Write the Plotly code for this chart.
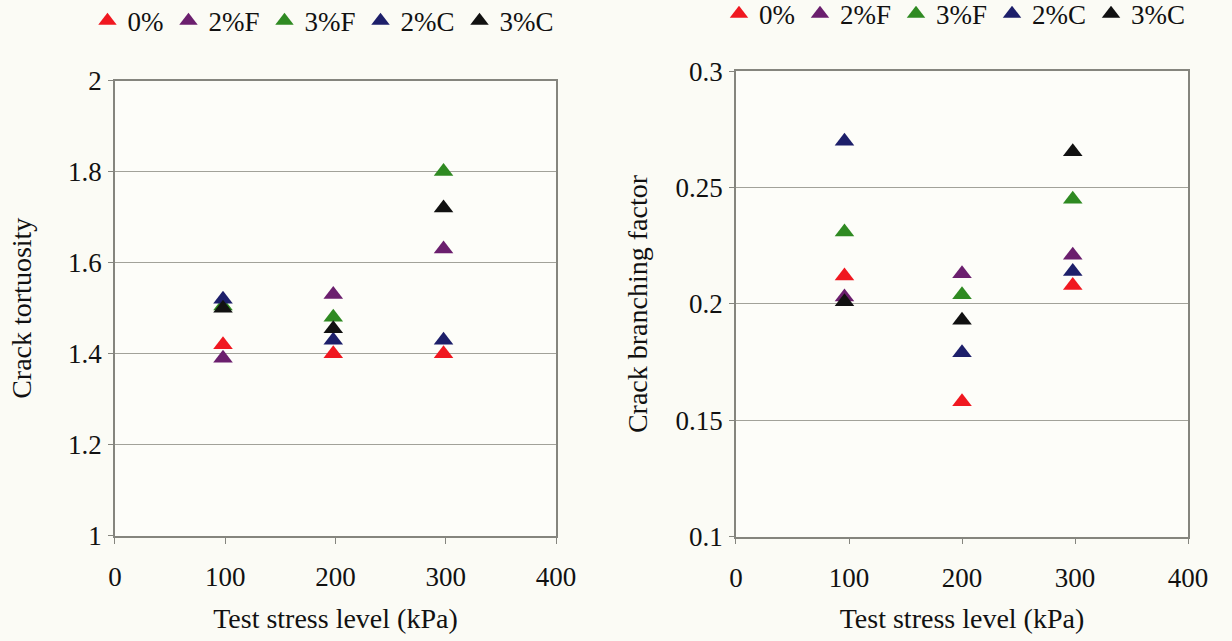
import plotly.graph_objects as go

# ---- data ----
series = ["0%", "2%F", "3%F", "2%C", "3%C"]
colors = ["#f01820", "#6b1f6e", "#2f8a22", "#1d1f6a", "#111111"]

stress_left = [98, 198, 298]
tortuosity = {
    "0%":   [1.42, 1.40, 1.40],
    "2%F":  [1.39, 1.53, 1.63],
    "3%F":  [1.505, 1.48, 1.80],
    "2%C":  [1.52, 1.43, 1.43],
    "3%C":  [1.50, 1.455, 1.72],
}

stress_right = [96, 200, 298]
branching = {
    "0%":   [0.212, 0.158, 0.208],
    "2%F":  [0.203, 0.213, 0.221],
    "3%F":  [0.231, 0.204, 0.245],
    "2%C":  [0.270, 0.179, 0.214],
    "3%C":  [0.201, 0.193, 0.2655],
}

x_ticks = [0, 100, 200, 300, 400]
y_ticks_left = [1, 1.2, 1.4, 1.6, 1.8, 2]
y_ticks_right = [0.1, 0.15, 0.2, 0.25, 0.3]

FONT = "Liberation Serif"
FS = 27
FS_TITLE = 28
GRID = "#a2a29a"
AXIS = "#85857e"

fig = go.Figure()
for name, col in zip(series, colors):
    fig.add_trace(go.Scatter(
        x=stress_left, y=tortuosity[name], mode="markers", name=name,
        marker=dict(symbol="triangle-up", size=17, color=col),
        xaxis="x", yaxis="y", legend="legend"))
for name, col in zip(series, colors):
    fig.add_trace(go.Scatter(
        x=stress_right, y=branching[name], mode="markers", name=name,
        marker=dict(symbol="triangle-up", size=17, color=col),
        xaxis="x2", yaxis="y2", legend="legend2"))

common_x = dict(range=[0, 400], tickvals=x_ticks, showgrid=False, zeroline=False,
                showline=True, linecolor=AXIS, linewidth=1.5, mirror=True,
                ticks="outside", ticklen=6, tickcolor=AXIS,
                tickfont=dict(family=FONT, size=FS, color="#111"),
                ticklabelstandoff=10, automargin=False,
                title=dict(text="Test stress level (kPa)", standoff=17,
                           font=dict(family=FONT, size=FS_TITLE, color="#111")))
common_y = dict(showgrid=True, gridcolor=GRID, gridwidth=1.2, zeroline=False,
                showline=True, linecolor=AXIS, linewidth=1.5, mirror=True,
                ticks="outside", ticklen=5, tickcolor=AXIS,
                tickfont=dict(family=FONT, size=FS, color="#111"),
                ticklabelstandoff=1, automargin=False)

fig.update_layout(
    width=1232, height=641,
    margin=dict(l=0, r=0, t=0, b=0, autoexpand=False),
    paper_bgcolor="#fbfbf5", plot_bgcolor="#fdfdf9",
    font=dict(family=FONT, size=FS, color="#111"),
    xaxis=dict(domain=[0.0933, 0.4513], anchor="y", **common_x),
    yaxis=dict(domain=[0.1638, 0.8744], anchor="x", range=[1, 2], tickvals=y_ticks_left,
               title=dict(text="Crack tortuosity", standoff=28,
                          font=dict(family=FONT, size=FS_TITLE, color="#111")),
               **common_y),
    xaxis2=dict(domain=[0.5974, 0.9643], anchor="y2", **common_x),
    yaxis2=dict(domain=[0.1630, 0.8885], anchor="x2", range=[0.1, 0.3], tickvals=y_ticks_right,
                title=dict(text="Crack branching factor", standoff=20,
                           font=dict(family=FONT, size=FS_TITLE, color="#111")),
                **common_y),
    legend=dict(orientation="h", x=0.071, y=0.967, xanchor="left", yanchor="middle",
                bgcolor="rgba(0,0,0,0)", itemwidth=30,
                font=dict(family=FONT, size=FS, color="#111")),
    legend2=dict(orientation="h", x=0.5836, y=0.978, xanchor="left", yanchor="middle",
                 bgcolor="rgba(0,0,0,0)", itemwidth=30,
                 font=dict(family=FONT, size=FS, color="#111")),
)

fig.write_html("out.html", config={"displayModeBar": False},
               post_script="document.body.style.margin='0';document.body.style.overflow='hidden';")
